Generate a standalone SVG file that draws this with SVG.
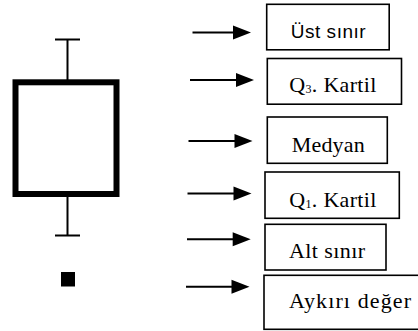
<svg xmlns="http://www.w3.org/2000/svg" width="418" height="331" viewBox="0 0 418 331">
  <style>
    .bg { fill: #ffffff; }
    .whisker { stroke: #000; stroke-width: 2; fill: none; }
    .box { stroke: #000; stroke-width: 6; fill: #ffffff; }
    .label { stroke: #000; stroke-width: 1.6; fill: #ffffff; }
    .arrow { stroke: #000; stroke-width: 2; fill: none; }
    .tip { fill: #000; }
    .sub { font-size: 12px; }
  </style>
  <defs>
    <!-- arrowhead, tip at the origin -->
    <path id="head" d="M-18,-7 L0,0 L-18,7 Z"/>
  </defs>
  <rect class="bg" x="0" y="0" width="418" height="331"/>

  <!-- box plot -->
  <g id="boxplot">
    <line class="whisker" x1="55" y1="39.5" x2="80" y2="39.5"/>
    <line class="whisker" x1="67.5" y1="39.5" x2="67.5" y2="80"/>
    <rect class="box" x="15.5" y="82.3" width="101" height="111.7"/>
    <line class="whisker" x1="67.5" y1="197" x2="67.5" y2="235.5"/>
    <line class="whisker" x1="55" y1="235.5" x2="80" y2="235.5"/>
    <rect x="61" y="272" width="14" height="14.5" fill="#000"/>
  </g>

  <!-- arrows -->
  <g id="connectors">
    <line class="arrow" x1="192.5" y1="32.5" x2="236" y2="32.5"/>
    <use class="tip" href="#head" x="251" y="32.5"/>
    <line class="arrow" x1="190" y1="80" x2="239" y2="80"/>
    <use class="tip" href="#head" x="254" y="80"/>
    <line class="arrow" x1="188.5" y1="141" x2="237.5" y2="141"/>
    <use class="tip" href="#head" x="252.5" y="141"/>
    <line class="arrow" x1="187.5" y1="193.5" x2="236.5" y2="193.5"/>
    <use class="tip" href="#head" x="251.5" y="193.5"/>
    <line class="arrow" x1="187" y1="239.3" x2="235.7" y2="239.3"/>
    <use class="tip" href="#head" x="250.7" y="239.3"/>
    <line class="arrow" x1="186" y1="286.7" x2="234.5" y2="286.7"/>
    <use class="tip" href="#head" x="249.5" y="286.7"/>
  </g>

  <!-- labels -->
  <g id="ust-sinir">
    <rect class="label" x="266.7" y="4.3" width="122.5" height="45.5"/>
    <text font-family="Liberation Sans, Arial, sans-serif" font-size="19" fill="#000" x="290.7" y="37.7" textLength="75" lengthAdjust="spacing">Üst sınır</text>
  </g>
  <g id="q3-kartil">
    <rect class="label" x="267.3" y="58.5" width="134.2" height="45.7"/>
    <text font-family="Liberation Serif, Times New Roman, serif" font-size="22" fill="#000" x="289.3" y="91.7" textLength="87" lengthAdjust="spacing">Q<tspan class="sub" dy="1">3</tspan><tspan dy="-1">. Kartil</tspan></text>
  </g>
  <g id="medyan">
    <rect class="label" x="267.3" y="117" width="120" height="46.3"/>
    <text font-family="Liberation Serif, Times New Roman, serif" font-size="22" fill="#000" x="291.7" y="151.7" textLength="73" lengthAdjust="spacing">Medyan</text>
  </g>
  <g id="q1-kartil">
    <rect class="label" x="265" y="172" width="134.3" height="46.3"/>
    <text font-family="Liberation Serif, Times New Roman, serif" font-size="22" fill="#000" x="289.3" y="206.5" textLength="87" lengthAdjust="spacing">Q<tspan class="sub" dy="1">1</tspan><tspan dy="-1">. Kartil</tspan></text>
  </g>
  <g id="alt-sinir">
    <rect class="label" x="265" y="224.3" width="121" height="45.7"/>
    <text font-family="Liberation Serif, Times New Roman, serif" font-size="22" fill="#000" x="289" y="257.7" textLength="76" lengthAdjust="spacing">Alt sınır</text>
  </g>
  <g id="aykiri-deger">
    <rect class="label" x="264" y="275.3" width="160" height="54"/>
    <text font-family="Liberation Serif, Times New Roman, serif" font-size="22" fill="#000" x="289" y="308" textLength="122" lengthAdjust="spacing">Aykırı değer</text>
  </g>
</svg>
